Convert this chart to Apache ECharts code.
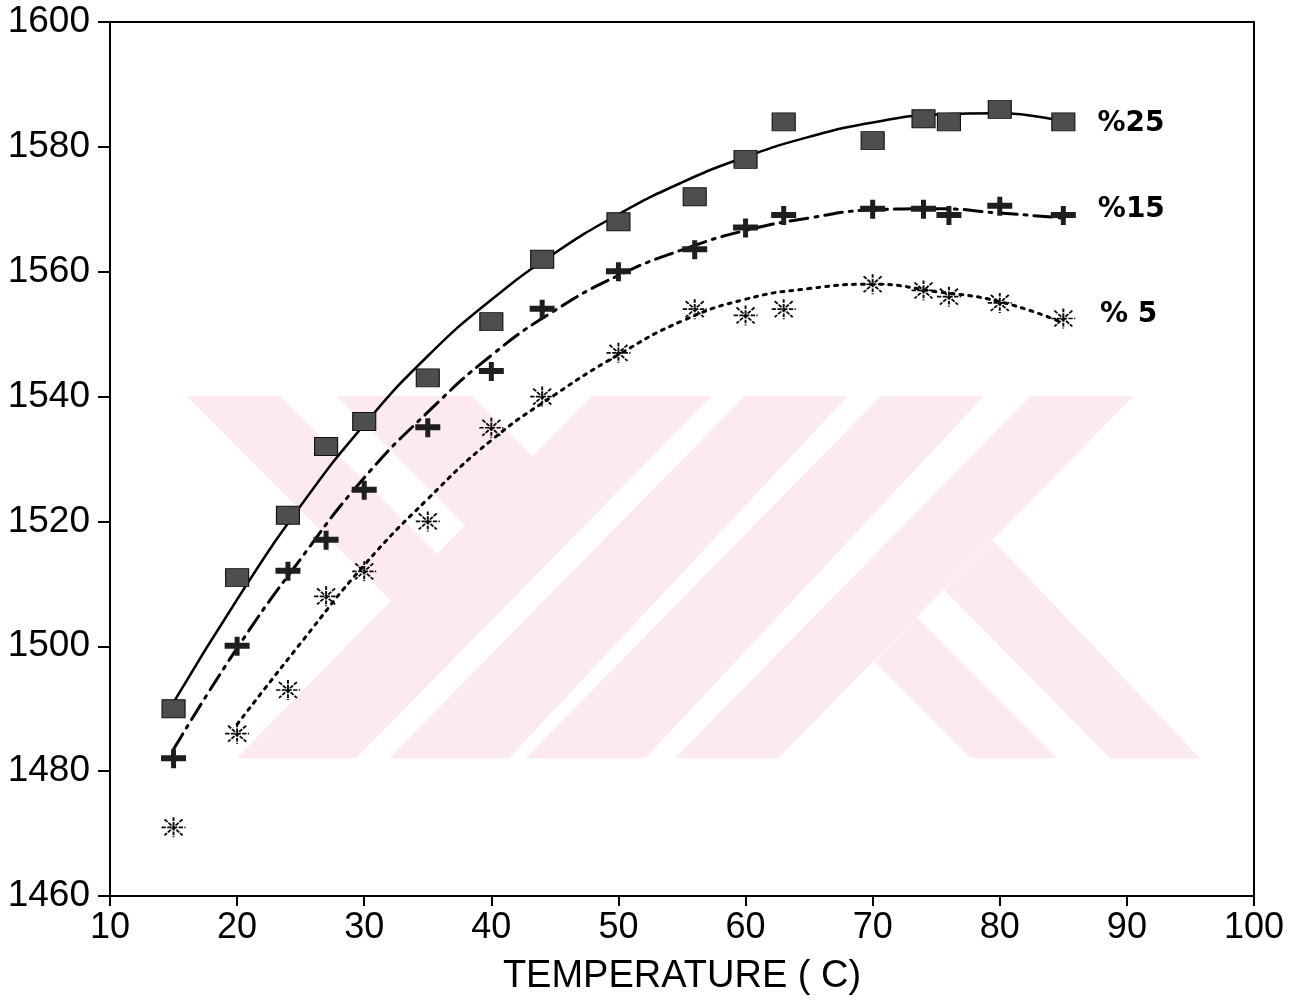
<!DOCTYPE html>
<html>
<head>
<meta charset="utf-8">
<title>Temperature curves</title>
<script src="https://cdn.jsdelivr.net/npm/echarts@6/dist/echarts.min.js"></script>
<style>
  html, body { margin: 0; padding: 0; background: #fff; }
  #chart { width: 1304px; height: 1006px; }
</style>
</head>
<body>
<div id="chart"></div>
<script>
// Measured temperatures (C)
const temps = [15, 20, 24, 27, 30, 35, 40, 44, 50, 56, 60, 63, 70, 74, 76, 80, 85];

// Measured values for each concentration
const meas25 = [1490, 1511, 1521, 1532, 1536, 1543, 1552, 1562, 1568, 1572, 1578, 1584, 1581, 1584.5, 1584, 1586, 1584];
const meas15 = [1482, 1500, 1512, 1517, 1525, 1535, 1544, 1554, 1560, 1563.5, 1567, 1569, 1570, 1570, 1569, 1570.5, 1569];
const meas5  = [1471, 1486, 1493, 1508, 1512, 1520, 1535, 1540, 1547, 1554, 1553, 1554, 1558, 1557, 1556, 1555, 1552.5];

// Fitted trend curves
const fitT25 = [15, 20, 25, 30, 35, 40, 45, 50, 55, 60, 65, 70, 75, 80, 85];
const fit25  = [1491, 1507.5, 1522.5, 1535.5, 1546.5, 1555.5, 1563, 1569.2, 1574.3, 1578.4, 1581.6, 1583.9, 1585.2, 1585.4, 1584];
const fitT15 = [15, 20, 25, 30, 35, 40, 45, 50, 55, 60, 65, 70, 75, 80, 85];
const fit15  = [1483.5, 1499.7, 1514, 1527, 1537.5, 1546.6, 1553.8, 1559.4, 1563.5, 1566.6, 1568.6, 1569.9, 1570.1, 1569.4, 1568.6];
const fitT5  = [20, 25, 30, 35, 40, 45, 50, 55, 60, 65, 70, 75, 80, 85];
const fit5   = [1487.5, 1500.5, 1513, 1523.6, 1533, 1540.3, 1546.7, 1552.1, 1555.6, 1557.3, 1558, 1556.8, 1555.2, 1551.8];

// Series names and axis ticks
const seriesNames = ['%25', '%15', '% 5'];
const xTicks = { min: 10, max: 100, step: 10 };
const yTicks = { min: 1460, max: 1600, step: 20 };

const pair = (xs, ys) => xs.map((x, i) => [x, ys[i]]);

const textFont = 'Liberation Sans, Arial, Helvetica, sans-serif';

function measured(name, ys, symbol, size, itemStyle, labelOffset) {
  const pts = pair(temps, ys);
  return {
    type: 'scatter',
    name: name,
    symbol: symbol,
    symbolSize: size,
    itemStyle: Object.assign({ opacity: 1 }, itemStyle),
    z: 5,
    data: pts.map((p, i) => i === pts.length - 1 ? {
      value: p,
      label: {
        show: true,
        formatter: name,
        position: 'right',
        distance: 22,
        offset: labelOffset,
        color: '#000',
        fontSize: 28,
        fontWeight: 'bold',
        fontFamily: 'DejaVu Sans, sans-serif'
      }
    } : p)
  };
}

function trend(name, xs, ys, width, dash) {
  return {
    type: 'line',
    name: name + ' fit',
    data: pair(xs, ys),
    smooth: true,
    showSymbol: false,
    silent: true,
    z: 3,
    lineStyle: { color: '#000', width: width, type: dash, cap: 'round' }
  };
}

// Faint background logo stripes
const pink = '#fdeaee';
const stripes = [
  [[186.6, 396], [279.7, 396], [437.2, 554.3], [391.3, 601.3]],
  [[336.2, 396], [472.4, 396], [532.8, 456.7], [465.7, 525.7]],
  [[592, 396], [711.6, 396], [356.1, 758.3], [236.5, 758.3]],
  [[744.8, 396], [847.8, 396], [508.9, 758.3], [389.3, 758.3]],
  [[881, 396], [984, 396], [645.2, 758.3], [525.5, 758.3]],
  [[1030.6, 396], [1133.6, 396], [778, 758.3], [675, 758.3]],
  [[944.2, 590], [992.7, 540.3], [1200, 758.3], [1110.3, 758.3]],
  [[874.4, 661.7], [917, 617.7], [1057, 758.3], [970.8, 758.3]]
];

const chart = echarts.init(document.getElementById('chart'));

chart.setOption({
  animation: false,
  backgroundColor: '#fff',
  graphic: stripes.map(pts => ({
    type: 'polygon',
    shape: { points: pts },
    style: { fill: pink },
    silent: true,
    z: -10
  })),
  grid: {
    left: 110, right: 50, top: 22, bottom: 110,
    outerBoundsMode: 'none',
    containLabel: false,
    show: true, borderColor: '#000', borderWidth: 2, backgroundColor: 'transparent'
  },
  xAxis: {
    type: 'value',
    min: xTicks.min, max: xTicks.max, interval: xTicks.step,
    name: 'TEMPERATURE ( C)',
    nameLocation: 'middle',
    nameGap: 62,
    nameTextStyle: { color: '#000', fontSize: 38, fontFamily: textFont },
    axisLine: { show: true, lineStyle: { color: '#000', width: 2 } },
    axisTick: { show: true, length: 10, lineStyle: { color: '#000', width: 2 } },
    axisLabel: { color: '#000', fontSize: 36, fontFamily: textFont, margin: 14 },
    splitLine: { show: false }
  },
  yAxis: {
    type: 'value',
    min: yTicks.min, max: yTicks.max, interval: yTicks.step,
    axisLine: { show: true, lineStyle: { color: '#000', width: 2 } },
    axisTick: { show: true, length: 12, lineStyle: { color: '#000', width: 2 } },
    axisLabel: {
      color: '#000', fontSize: 37, fontFamily: textFont, margin: 20,
      formatter: v => String(v)
    },
    splitLine: { show: false }
  },
  series: [
    trend(seriesNames[0], fitT25, fit25, 2.5, 'solid'),
    trend(seriesNames[1], fitT15, fit15, 3, [18, 7, 3, 7]),
    trend(seriesNames[2], fitT5, fit5, 3, [3, 6]),
    measured(seriesNames[0], meas25, 'rect', [23, 18],
      { color: '#4e4e4e', borderColor: '#111', borderWidth: 1 }, [0, 2]),
    measured(seriesNames[1], meas15, 'path://M0,6H10V0H15V6H25V12H15V19H10V12H0Z', [25, 19],
      { color: '#1e1e1e' }, [0, -6]),
    measured(seriesNames[2], meas5, 'path://M0,10H24M12,0V20M3,2L21,18M21,2L3,18', [24, 20],
      { color: 'none', borderColor: '#0a0a0a', borderWidth: 1.8, borderType: [4, 1.2] }, [0, -4])
  ]
});
</script>
</body>
</html>
